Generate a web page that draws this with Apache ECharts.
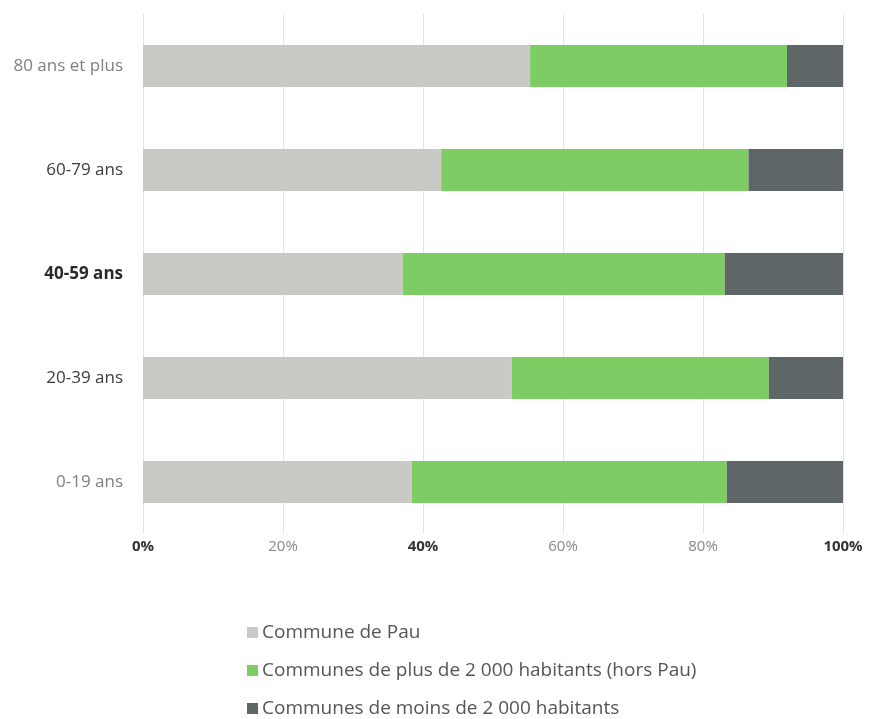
<!DOCTYPE html>
<html>
<head>
<meta charset="utf-8">
<script src="https://cdn.jsdelivr.net/npm/echarts@6/dist/echarts.min.js"></script>
<style>html,body{margin:0;padding:0;background:#fff}#c{width:870px;height:719px}</style>
</head>
<body>
<div id="c"></div>
<script>
const categories = ['0-19 ans', '20-39 ans', '40-59 ans', '60-79 ans', '80 ans et plus'];
const seriesNames = ['Commune de Pau', 'Communes de plus de 2 000 habitants (hors Pau)', 'Communes de moins de 2 000 habitants'];
const pau = [38.4, 52.7, 37.1, 42.6, 55.3];
const plus2000 = [45.0, 36.7, 46.0, 43.9, 36.7];
const moins2000 = [16.6, 10.6, 16.9, 13.5, 8.0];
const xTicks = [0, 20, 40, 60, 80, 100];

const colors = ['#c9c9c5', '#7ecc64', '#5f6668'];
const darkX = {0: true, 40: true, 100: true};
const yLabelStyle = {
  '0-19 ans': 'g', '20-39 ans': 'd', '40-59 ans': 'b', '60-79 ans': 'd', '80 ans et plus': 'g'
};

const chart = echarts.init(document.getElementById('c'), null, {renderer: 'canvas'});
const font = 'Open Sans';
const mk = (name, data, i) => ({
  name, type: 'bar', stack: 'total', data, barWidth: 42,
  itemStyle: {color: colors[i]}, emphasis: {disabled: true}
});
chart.setOption({
  animation: false,
  textStyle: {fontFamily: font},
  grid: {left: 143, right: 27, top: 14, height: 520, containLabel: false},
  xAxis: {
    type: 'value', min: xTicks[0], max: xTicks[xTicks.length - 1], interval: 20,
    axisLine: {show: false}, axisTick: {show: false},
    splitLine: {show: true, lineStyle: {color: '#e2e2e2', width: 1}},
    axisLabel: {
      margin: 5,
      formatter: v => (darkX[v] ? '{d|' + v + '%}' : '{g|' + v + '%}'),
      rich: {
        d: {fontFamily: font, fontSize: 15, fontWeight: 'bold', color: '#333'},
        g: {fontFamily: font, fontSize: 15, color: '#888'}
      }
    }
  },
  yAxis: {
    type: 'category', data: categories,
    axisLine: {show: false}, axisTick: {show: false},
    axisLabel: {
      margin: 20,
      formatter: v => '{' + yLabelStyle[v] + '|' + v + '}',
      rich: {
        g: {fontFamily: font, fontSize: 17, color: '#808080'},
        d: {fontFamily: font, fontSize: 17, color: '#3a3a3a'},
        b: {fontFamily: font, fontSize: 17, color: '#2a2a2a', fontWeight: 'bold'}
      }
    }
  },
  legend: {
    orient: 'vertical', left: 247, top: 623, height: 200, padding: 0,
    itemWidth: 11, itemHeight: 11, itemGap: 19, icon: 'rect',
    textStyle: {fontFamily: font, fontSize: 19, color: '#555', padding: [0, 0, 0, -1]},
    data: seriesNames
  },
  series: [mk(seriesNames[0], pau, 0), mk(seriesNames[1], plus2000, 1), mk(seriesNames[2], moins2000, 2)]
});
</script>
</body>
</html>
